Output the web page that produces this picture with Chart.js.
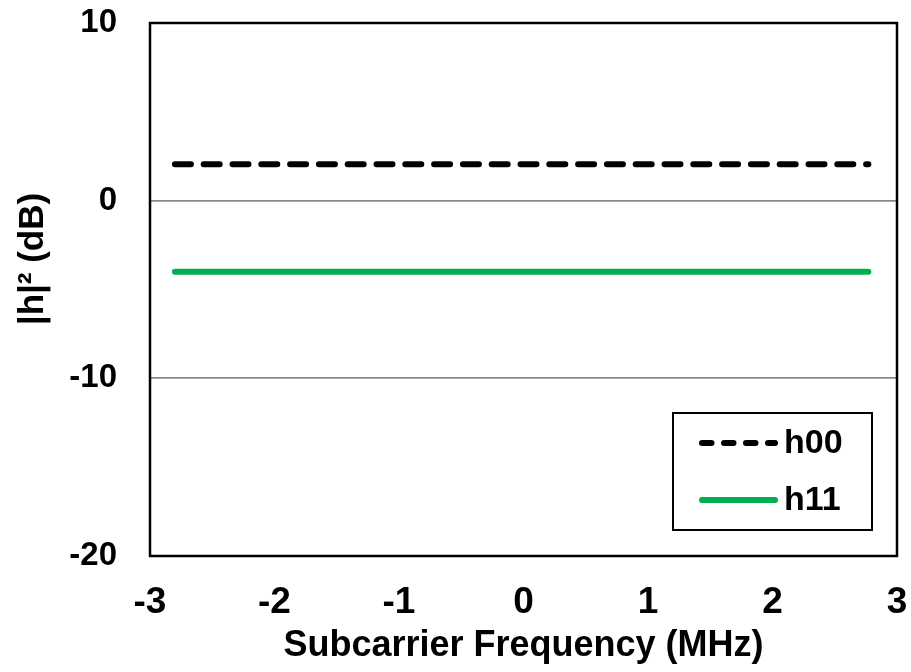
<!DOCTYPE html>
<html>
<head>
<meta charset="utf-8">
<script src="https://cdn.jsdelivr.net/npm/chart.js@4.4.1/dist/chart.umd.min.js"></script>
<style>
  html, body { margin: 0; padding: 0; background: #ffffff; }
  #wrap { width: 911px; height: 672px; position: relative; }
</style>
</head>
<body>
<div id="wrap"><canvas id="c" width="911" height="672"></canvas></div>
<script>
// ---- data ----
const seriesNames = ['h00', 'h11'];
const freqMHz = [-2.8, -2.0, -1.0, 0.0, 1.0, 2.0, 2.77];
const h00 = [2.05, 2.05, 2.05, 2.05, 2.05, 2.05, 2.05];
const h11 = [-4.0, -4.0, -4.0, -4.0, -4.0, -4.0, -4.0];
const xTicks = [-3, -2, -1, 0, 1, 2, 3];
const yTicks = [-20, -10, 0, 10];
const xTitle = 'Subcarrier Frequency (MHz)';
const yTitle = '|h|\u00B2 (dB)';

const FONT = "'Liberation Sans', Arial, sans-serif";

function pts(ys) { return freqMHz.map((x, i) => ({ x: x, y: ys[i] })); }

const frameAndTitle = {
  id: 'frameAndTitle',
  beforeDatasetsDraw(chart) {
    const { ctx, chartArea: a } = chart;
    ctx.save();
    ctx.strokeStyle = '#000';
    ctx.lineWidth = 2.5;
    ctx.strokeRect(a.left, a.top, a.right - a.left, a.bottom - a.top);
    ctx.restore();
  },
  afterDraw(chart) {
    const { ctx } = chart;
    // y axis title
    ctx.save();
    ctx.translate(33, 259);
    ctx.rotate(-Math.PI / 2);
    ctx.font = 'bold 35px ' + FONT;
    ctx.fillStyle = '#000';
    ctx.textAlign = 'center';
    ctx.textBaseline = 'middle';
    ctx.fillText(yTitle, 0, 0);
    ctx.restore();

    // legend box
    const bx = 673, by = 413, bw = 199, bh = 117;
    ctx.save();
    ctx.fillStyle = '#fff';
    ctx.fillRect(bx, by, bw, bh);
    ctx.strokeStyle = '#000';
    ctx.lineWidth = 2;
    ctx.strokeRect(bx, by, bw, bh);
    const rowsY = [443, 500];
    chart.data.datasets.forEach((ds, i) => {
      const y = rowsY[i];
      ctx.beginPath();
      ctx.strokeStyle = ds.borderColor;
      ctx.lineWidth = ds.borderWidth;
      ctx.lineCap = 'round';
      ctx.setLineDash(ds.borderDash && ds.borderDash.length ? [9.5, 12.5] : []);
      ctx.moveTo(702, y);
      ctx.lineTo(775, y);
      ctx.stroke();
      ctx.setLineDash([]);
      ctx.fillStyle = '#000';
      ctx.font = 'bold 34px ' + FONT;
      ctx.textAlign = 'left';
      ctx.textBaseline = 'middle';
      ctx.fillText(ds.label, 784, y + 1);
    });
    ctx.restore();
  }
};

new Chart(document.getElementById('c'), {
  type: 'line',
  data: {
    datasets: [
      {
        label: seriesNames[0],
        data: pts(h00),
        borderColor: '#000000',
        backgroundColor: '#000000',
        borderWidth: 6,
        borderDash: [16, 12.8],
        borderCapStyle: 'round',
        pointRadius: 0,
        fill: false,
        tension: 0
      },
      {
        label: seriesNames[1],
        data: pts(h11),
        borderColor: '#00B050',
        backgroundColor: '#00B050',
        borderWidth: 6,
        borderCapStyle: 'round',
        pointRadius: 0,
        fill: false,
        tension: 0
      }
    ]
  },
  options: {
    responsive: false,
    animation: false,
    devicePixelRatio: 1,
    layout: { padding: { top: 23, right: 14, left: 0, bottom: 0 } },
    plugins: {
      legend: { display: false },
      tooltip: { enabled: false }
    },
    scales: {
      x: {
        type: 'linear',
        min: -3,
        max: 3,
        afterFit(scale) { scale.height = 116; scale.paddingLeft = 0; scale.paddingRight = 0; },
        afterBuildTicks(scale) { scale.ticks = xTicks.map(v => ({ value: v })); },
        border: { display: false },
        grid: { display: false, drawTicks: false },
        ticks: {
          padding: 25,
          color: '#000',
          font: { family: FONT, size: 37, weight: 'bold' },
          maxRotation: 0,
          autoSkip: false
        },
        title: {
          display: true,
          text: xTitle,
          color: '#000',
          font: { family: FONT, size: 36, weight: 'bold' },
          padding: { top: 0, bottom: 4 }
        }
      },
      y: {
        type: 'linear',
        min: -20,
        max: 10,
        afterFit(scale) { scale.width = 150; scale.paddingTop = 0; scale.paddingBottom = 0; },
        afterBuildTicks(scale) { scale.ticks = yTicks.map(v => ({ value: v })); },
        border: { display: false },
        grid: {
          drawTicks: false,
          lineWidth: 1.8,
          color: (c) => (c.tick && (c.tick.value === 0 || c.tick.value === -10)) ? '#888888' : 'rgba(0,0,0,0)'
        },
        ticks: {
          padding: 33,
          color: '#000',
          font: { family: FONT, size: 33, weight: 'bold' },
          autoSkip: false
        }
      }
    }
  },
  plugins: [frameAndTitle]
});
</script>
</body>
</html>
